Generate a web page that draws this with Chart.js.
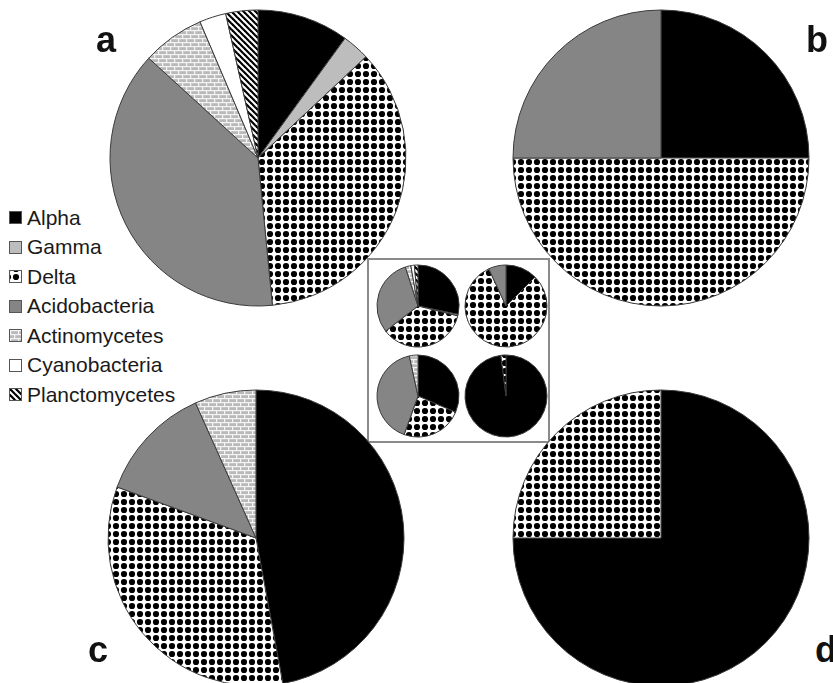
<!DOCTYPE html>
<html>
<head>
<meta charset="utf-8">
<script src="https://cdn.jsdelivr.net/npm/chart.js@4.4.1/dist/chart.umd.min.js"></script>
<style>
  html, body { margin: 0; padding: 0; background: #fff; width: 833px; height: 683px; overflow: hidden; }
  #stage { position: relative; width: 833px; height: 683px; overflow: hidden; }
  canvas.pie { position: absolute; }
  .panel { position: absolute; font-family: "Liberation Sans", Arial, sans-serif; font-weight: bold; font-size: 36px; color: #111; line-height: 1; }
  #inset { position: absolute; left: 367px; top: 258px; width: 179px; height: 181px; border: 2px solid #8a8a8a; }
  #legend { position: absolute; left: 9px; top: 203px; font-family: "Liberation Sans", Arial, sans-serif; font-size: 21px; color: #1a1a1a; }
  #legend .item { display: flex; align-items: center; height: 29.5px; }
  #legend .sw { width: 13px; height: 13px; border: 1px solid #555; margin-right: 5px; box-sizing: border-box; }
</style>
</head>
<body>
<div id="stage">
  <div id="inset"></div>
  <div id="legend"></div>
</div>
<script>
// Taxonomic groups, in slice order (clockwise from 12 o'clock)
const categories = ['Alpha', 'Gamma', 'Delta', 'Acidobacteria', 'Actinomycetes', 'Cyanobacteria', 'Planctomycetes'];

// Relative abundance (%) per group for the four large pies
const pieA = [10.0, 3.0, 35.4, 38.3, 6.8, 2.9, 3.5];
const pieB = [25, 0, 50, 25, 0, 0, 0];
const pieC = [47.1, 0, 33.5, 12.7, 6.7, 0, 0];
const pieD = [75, 0, 25, 0, 0, 0, 0];

// Small pies in the central box (top-left, top-right, bottom-left, bottom-right)
const insetTL = [28.3, 0.6, 35.6, 30.5, 2.2, 1.4, 1.4];
const insetTR = [12.5, 0, 80.6, 6.9, 0, 0, 0];
const insetBL = [31.5, 0, 24.0, 41.1, 3.4, 0, 0];
const insetBR = [98, 0, 2, 0, 0, 0, 0];

const panelLabels = ['a', 'b', 'c', 'd'];

// ---- fill patterns ----
function tile(w, h, draw) {
  const c = document.createElement('canvas');
  c.width = w; c.height = h;
  const g = c.getContext('2d');
  draw(g, w, h);
  return c;
}
const dotTile = tile(8, 8, (g) => {
  g.fillStyle = '#fff'; g.fillRect(0, 0, 8, 8);
  g.fillStyle = '#000';
  g.beginPath(); g.arc(4, 4, 3.1, 0, Math.PI * 2); g.fill();
});
const brickTile = tile(8, 8, (g) => {
  g.fillStyle = '#b9b9b9'; g.fillRect(0, 0, 8, 8);
  g.fillStyle = '#f4f4f4';
  g.fillRect(0, 0, 8, 1.2);
  g.fillRect(0, 4, 8, 1.2);
  g.fillRect(0, 0, 1.2, 4);
  g.fillRect(4, 4, 1.2, 4);
});
const stripeTile = tile(6, 6, (g) => {
  g.fillStyle = '#fff'; g.fillRect(0, 0, 6, 6);
  g.strokeStyle = '#000'; g.lineWidth = 2.2;
  for (let x = -6; x <= 6; x += 6) {
    g.beginPath(); g.moveTo(x - 1, -1); g.lineTo(x + 7, 7); g.stroke();
  }
});

const pctx = document.createElement('canvas').getContext('2d');
const fills = [
  '#000000',
  '#bdbdbd',
  pctx.createPattern(dotTile, 'repeat'),
  '#858585',
  pctx.createPattern(brickTile, 'repeat'),
  '#ffffff',
  pctx.createPattern(stripeTile, 'repeat')
];
const swatchBg = [
  '#000000', '#bdbdbd', 'url(' + dotTile.toDataURL() + ') 2px 2px', '#858585',
  'url(' + brickTile.toDataURL() + ')', '#ffffff', 'url(' + stripeTile.toDataURL() + ')'
];

// ---- pies ----
const stage = document.getElementById('stage');
function addPie(values, cx, cy, r) {
  const size = Math.ceil(2 * r + 8);
  const cv = document.createElement('canvas');
  cv.className = 'pie';
  cv.width = size; cv.height = size;
  cv.style.width = size + 'px'; cv.style.height = size + 'px';
  cv.style.left = (cx - size / 2) + 'px';
  cv.style.top = (cy - size / 2) + 'px';
  stage.appendChild(cv);
  new Chart(cv, {
    type: 'pie',
    data: {
      labels: categories,
      datasets: [{
        data: values,
        backgroundColor: fills,
        borderColor: '#3a3a3a',
        borderWidth: (c) => (c.raw > 0 ? 1 : 0),
        borderAlign: 'center'
      }]
    },
    options: {
      responsive: false,
      animation: false,
      radius: r,
      layout: { padding: 0 },
      plugins: { legend: { display: false }, tooltip: { enabled: false } }
    }
  });
}

addPie(pieA, 258, 158, 148);
addPie(pieB, 661, 158, 148);
addPie(pieC, 256, 538, 148);
addPie(pieD, 661, 538, 148);

addPie(insetTL, 418, 306, 41);
addPie(insetTR, 506, 306, 41);
addPie(insetBL, 418, 396, 41);
addPie(insetBR, 506, 396, 41);

// ---- panel letters ----
const labelPos = [[96, 22], [806, 22], [88, 632], [815, 632]];
panelLabels.forEach((t, i) => {
  const d = document.createElement('div');
  d.className = 'panel';
  d.textContent = t;
  d.style.left = labelPos[i][0] + 'px';
  d.style.top = labelPos[i][1] + 'px';
  stage.appendChild(d);
});

// ---- legend ----
const legend = document.getElementById('legend');
categories.forEach((name, i) => {
  const it = document.createElement('div');
  it.className = 'item';
  const sw = document.createElement('span');
  sw.className = 'sw';
  sw.style.background = swatchBg[i];
  const tx = document.createElement('span');
  tx.textContent = name;
  it.appendChild(sw); it.appendChild(tx);
  legend.appendChild(it);
});
</script>
</body>
</html>
